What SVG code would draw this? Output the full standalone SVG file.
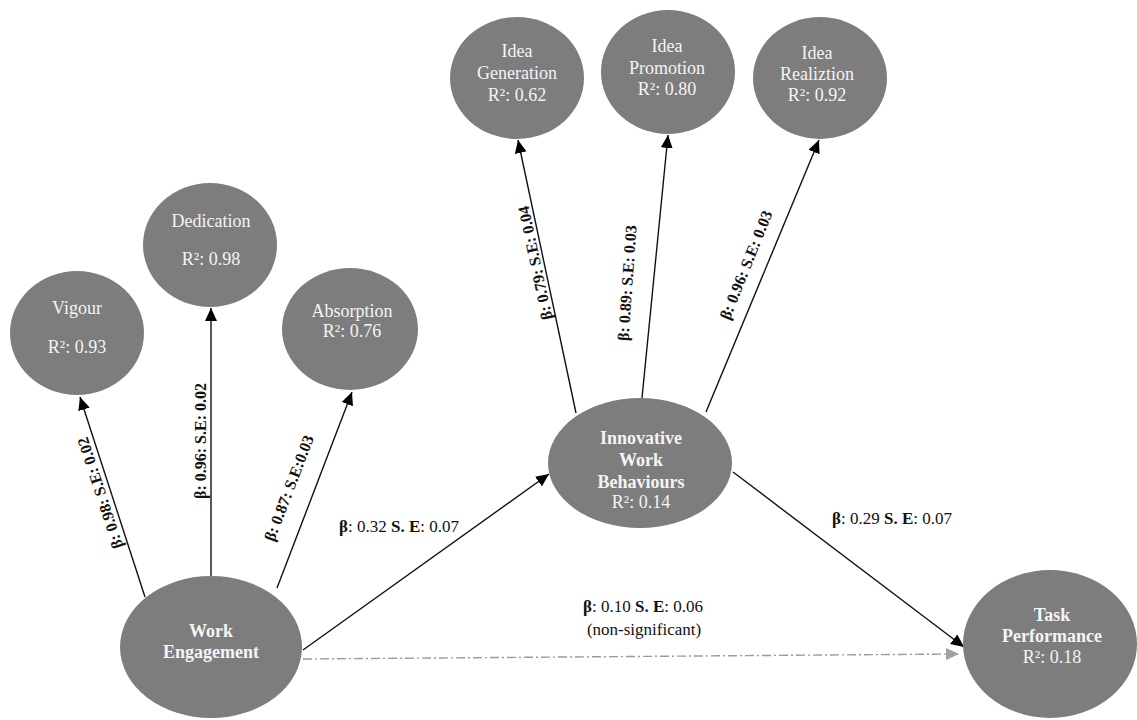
<svg xmlns="http://www.w3.org/2000/svg" width="1137" height="720" viewBox="0 0 1137 720">
<style>
.node{fill:#7d7d7d;}
.nt{font-family:'Liberation Serif','Times New Roman',Times,'DejaVu Serif',serif;font-size:18px;fill:#f4f4f4;text-anchor:middle;}
.nb{font-weight:bold;}
.edge{stroke:#111;stroke-width:1.4;fill:none;marker-end:url(#ah);}
.dash{stroke:#9a9a9a;stroke-width:1.4;fill:none;stroke-dasharray:9 3 2 3;marker-end:url(#ahg);}
.el{font-family:'Liberation Serif','Times New Roman',Times,'DejaVu Serif',serif;font-size:16px;fill:#111;text-anchor:middle;dominant-baseline:central;font-weight:bold;}
.hl{font-family:'Liberation Serif','Times New Roman',Times,'DejaVu Serif',serif;font-size:17px;fill:#111;text-anchor:middle;}
.b{font-weight:bold;}
</style>
<defs>
<marker id="ah" markerUnits="userSpaceOnUse" markerWidth="14" markerHeight="12" refX="13" refY="6" orient="auto">
<path d="M0,0 L13,6 L0,12 z" fill="#000"/>
</marker>
<marker id="ahg" markerUnits="userSpaceOnUse" markerWidth="14" markerHeight="12" refX="13" refY="6" orient="auto">
<path d="M0,0 L13,6 L0,12 z" fill="#a0a0a0"/>
</marker>
</defs>
<rect width="1137" height="720" fill="#fff"/>

<g id="connectors">
<line class="edge" x1="145" y1="597" x2="80" y2="397"/>
<line class="edge" x1="211" y1="577" x2="211" y2="308"/>
<line class="edge" x1="277" y1="588" x2="352" y2="392"/>
<line class="edge" x1="303" y1="650" x2="549" y2="474"/>
<line class="dash" x1="303" y1="659" x2="959" y2="654"/>
<line class="edge" x1="733" y1="472" x2="964" y2="647"/>
<line class="edge" x1="576" y1="413" x2="518" y2="140"/>
<line class="edge" x1="642" y1="398" x2="668" y2="135"/>
<line class="edge" x1="706" y1="412" x2="819" y2="140"/>

<text class="el" transform="translate(100,493) rotate(-108)">β: 0.98: S.E: 0.02</text>
<text class="el" transform="translate(200,441) rotate(-90)">β: 0.96: S.E: 0.02</text>
<text class="el" transform="translate(289,488) rotate(-69)">β: 0.87: S.E:0.03</text>
<text class="el" transform="translate(535,263) rotate(-102)">β: 0.79: S.E: 0.04</text>
<text class="el" transform="translate(627,283) rotate(-86)">β: 0.89: S.E: 0.03</text>
<text class="el" transform="translate(746,265) rotate(-68)">β: 0.96: S.E: 0.03</text>

<text class="hl" x="399" y="532"><tspan class="b">β</tspan>: 0.32 <tspan class="b">S. E</tspan>: 0.07</text>
<text class="hl" x="892" y="524"><tspan class="b">β</tspan>: 0.29 <tspan class="b">S. E</tspan>: 0.07</text>
<text class="hl" x="643" y="612"><tspan class="b">β</tspan>: 0.10 <tspan class="b">S. E</tspan>: 0.06</text>
<text class="hl" x="644" y="635">(non-significant)</text>
</g>

<g id="vigour">
<ellipse class="node" cx="77" cy="333" rx="67" ry="62"/>
<text class="nt" x="77" y="314">Vigour</text>
<text class="nt" x="77" y="353">R²: 0.93</text>
</g>
<g id="dedication">
<ellipse class="node" cx="210" cy="245" rx="67" ry="62"/>
<text class="nt" x="211" y="227">Dedication</text>
<text class="nt" x="211" y="265">R²: 0.98</text>
</g>
<g id="absorption">
<ellipse class="node" cx="350" cy="329" rx="68" ry="61"/>
<text class="nt" x="352" y="317">Absorption</text>
<text class="nt" x="352" y="337">R²: 0.76</text>
</g>
<g id="idea-generation">
<ellipse class="node" cx="517" cy="78" rx="67" ry="61"/>
<text class="nt" x="517" y="57">Idea</text>
<text class="nt" x="517" y="79">Generation</text>
<text class="nt" x="517" y="101">R²: 0.62</text>
</g>
<g id="idea-promotion">
<ellipse class="node" cx="668" cy="72" rx="67" ry="62"/>
<text class="nt" x="667" y="52">Idea</text>
<text class="nt" x="667" y="74">Promotion</text>
<text class="nt" x="667" y="95">R²: 0.80</text>
</g>
<g id="idea-realization">
<ellipse class="node" cx="820" cy="78" rx="67" ry="61"/>
<text class="nt" x="817" y="59">Idea</text>
<text class="nt" x="817" y="80">Realiztion</text>
<text class="nt" x="817" y="101">R²: 0.92</text>
</g>
<g id="innovative-work-behaviours">
<ellipse class="node" cx="640" cy="463" rx="92" ry="65"/>
<text class="nt nb" x="641" y="444">Innovative</text>
<text class="nt nb" x="641" y="466">Work</text>
<text class="nt nb" x="641" y="488">Behaviours</text>
<text class="nt" x="641" y="508">R²: 0.14</text>
</g>
<g id="work-engagement">
<ellipse class="node" cx="211" cy="647" rx="91" ry="71"/>
<text class="nt nb" x="211" y="637">Work</text>
<text class="nt nb" x="211" y="658">Engagement</text>
</g>
<g id="task-performance">
<ellipse class="node" cx="1050" cy="644" rx="87" ry="74"/>
<text class="nt nb" x="1052" y="621">Task</text>
<text class="nt nb" x="1052" y="642">Performance</text>
<text class="nt" x="1052" y="663">R²: 0.18</text>
</g>
</svg>
